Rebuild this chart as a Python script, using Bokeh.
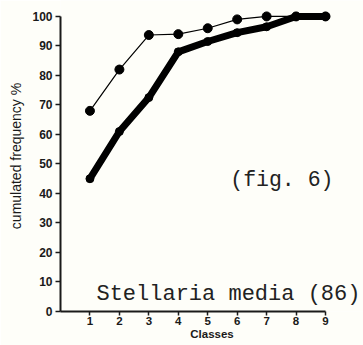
from bokeh.plotting import figure
from bokeh.models import Range1d, FixedTicker, Label
from bokeh.embed import file_html
from bokeh.resources import INLINE

classes = [1, 2, 3, 4, 5, 6, 7, 8, 9]
thin_series = [68, 82, 93.7, 94, 96, 99, 100, 100, 100]
thick_series = [45, 61, 72.5, 88, 91.5, 94.5, 96.5, 100, 100]
y_ticks = [0, 10, 20, 30, 40, 50, 60, 70, 80, 90, 100]
x_ticks = [1, 2, 3, 4, 5, 6, 7, 8, 9]

ink = "#1a1a1a"
bg = "#fefef9"

p = figure(width=363, height=345, output_backend="svg", toolbar_location=None,
           x_range=Range1d(0, 10.29), y_range=Range1d(0, 105.4),
           min_border_left=60, min_border_right=0, min_border_top=0, min_border_bottom=34)
p.background_fill_color = bg
p.border_fill_color = bg
p.outline_line_color = None
p.xgrid.visible = False
p.ygrid.visible = False

# axes
for ax in (p.xaxis[0], p.yaxis[0]):
    ax.axis_line_color = ink
    ax.axis_line_width = 2
    ax.major_tick_line_color = ink
    ax.major_tick_line_width = 1.5
    ax.major_tick_in = 0
    ax.minor_tick_line_color = None
    ax.major_label_text_font = "Liberation Sans"
    ax.major_label_text_font_style = "bold"
    ax.major_label_text_color = ink
    ax.axis_label_text_font = "Liberation Sans"
    ax.axis_label_text_color = ink

p.xaxis[0].ticker = FixedTicker(ticks=x_ticks)
p.xaxis[0].bounds = (0, 9)
p.xaxis[0].major_tick_out = 4
p.xaxis[0].major_label_standoff = 1
p.xaxis[0].major_label_text_font_size = "11.5px"
p.xaxis[0].axis_label = "Classes"
p.xaxis[0].axis_label_text_font_style = "bold"
p.xaxis[0].axis_label_text_font_size = "11.5px"
p.xaxis[0].axis_label_standoff = 0

p.yaxis[0].ticker = FixedTicker(ticks=y_ticks)
p.yaxis[0].bounds = (0, 100)
p.yaxis[0].major_tick_out = 5
p.yaxis[0].major_label_standoff = 3
p.yaxis[0].major_label_text_font_size = "12px"
p.yaxis[0].axis_label = "cumulated frequency %"
p.yaxis[0].axis_label_text_font_style = "normal"
p.yaxis[0].axis_label_text_font_size = "14px"
p.yaxis[0].axis_label_standoff = 5

# series
p.line(classes, thick_series, line_width=7, line_color="black", line_cap="round", line_join="round")
p.scatter(classes, thick_series, size=8, color="black")
p.line(classes, thin_series, line_width=1.2, line_color="black")
p.scatter(classes, thin_series, size=9, color="black")

# texts
p.add_layout(Label(x=5.765, y=44.4, text="(fig. 6)", text_font="Liberation Mono",
                   text_font_size="21.5px", text_color="#222222", text_baseline="alphabetic"))
p.add_layout(Label(x=1.22, y=5.8, text="Stellaria media (86)", text_font="Liberation Mono",
                   text_font_size="22px", text_color="#222222", text_baseline="alphabetic"))

open("out.html", "w").write(file_html(p, INLINE))
